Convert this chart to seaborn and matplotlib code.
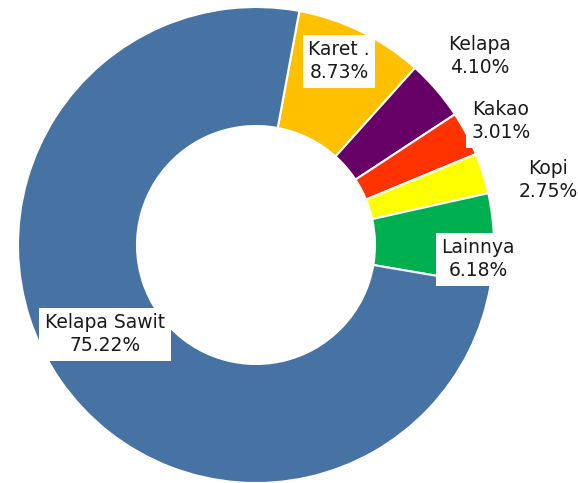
import matplotlib
matplotlib.use("Agg")
import matplotlib.pyplot as plt
import seaborn as sns

# === data ===
commodities = ["Karet .", "Kelapa", "Kakao", "Kopi", "Lainnya", "Kelapa Sawit"]
shares = [8.73, 4.10, 3.01, 2.75, 6.18, 75.22]
colors = ["#FFC000", "#660066", "#FF3300", "#FFFF00", "#00B050", "#4672A4"]

# label centres, pixel coords in the 578x483 image
label_px = [(339, 61), (480, 56), (501, 121), (548, 180), (478, 259), (105, 334)]

sns.set_theme(style="white")
plt.rcParams['font.family'] = ['DejaVu Sans']

W, H = 578, 483
cx, cy, R = 256, 245, 238  # donut centre and outer radius in px

fig = plt.figure(figsize=(W / 100, H / 100), dpi=100)
ax = fig.add_axes([0, 0, 1, 1])
ax.pie(shares, colors=colors, startangle=79.5, counterclock=False, radius=1,
       wedgeprops=dict(width=0.5, edgecolor='white', linewidth=1.5))
ax.set_xlim(-cx / R, (W - cx) / R)
ax.set_ylim(-(H - cy) / R, cy / R)
ax.set_aspect('auto')
ax.axis('off')

for name, val, (px, py) in zip(commodities, shares, label_px):
    ax.text((px - cx) / R, (cy - py) / R, f"{name}\n{val:.2f}%",
            ha='center', va='center', fontsize=13.5, color='#1a1a1a',
            linespacing=1.25,
            bbox=dict(boxstyle='square,pad=0.3', fc='white', ec='none'),
            zorder=5)

fig.savefig("out.png", dpi=100)
